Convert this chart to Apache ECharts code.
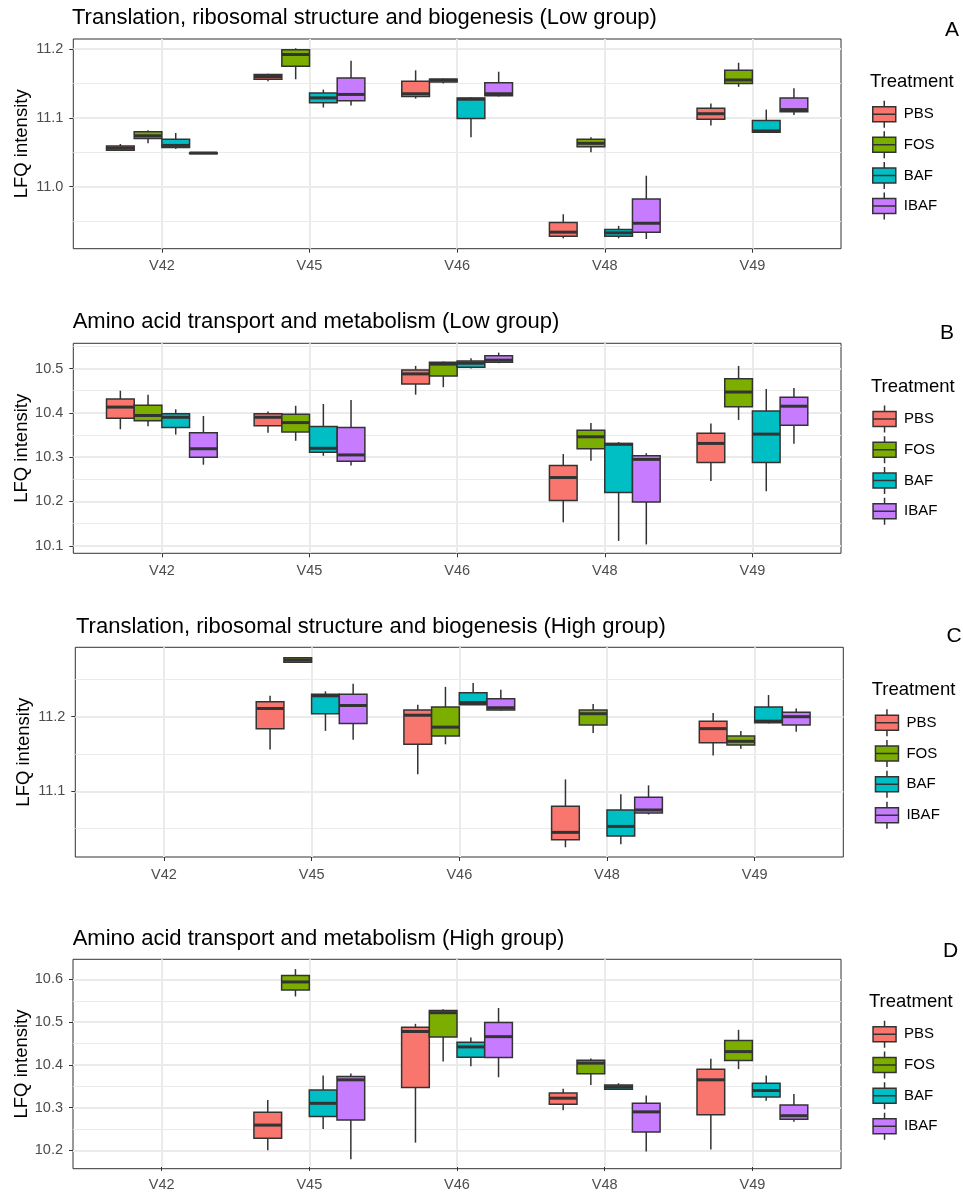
<!DOCTYPE html>
<html><head><meta charset="utf-8">
<script src="https://cdn.jsdelivr.net/npm/echarts@6/dist/echarts.min.js"></script>
<style>html,body{margin:0;padding:0;background:#fff}#chart{width:963px;height:1192px}</style>
</head><body><div id="chart"></div>
<script>
// ---------- data ----------
const categories = ['V42', 'V45', 'V46', 'V48', 'V49'];
const treatments = ['PBS', 'FOS', 'BAF', 'IBAF'];
const treatmentColors = ['#F8766D', '#7CAE00', '#00BFC4', '#C77CFF'];
// each box: [lower whisker, Q1, median, Q3, upper whisker]

// A: Translation, ribosomal structure and biogenesis (Low group)
const lowTransRange = [10.910, 11.2145];
const lowTransPBS = [[11.052, 11.053, 11.056, 11.059, 11.062], [11.153, 11.156, 11.160, 11.163, 11.164], [11.128, 11.131, 11.135, 11.153, 11.169], [10.925, 10.928, 10.934, 10.948, 10.960], [11.089, 11.098, 11.106, 11.114, 11.121]];
const lowTransFOS = [[11.063, 11.070, 11.074, 11.080, 11.082], [11.156, 11.175, 11.192, 11.199, 11.201], [11.150, 11.152, 11.155, 11.156, 11.157], [11.050, 11.058, 11.063, 11.069, 11.072], [11.145, 11.150, 11.155, 11.169, 11.180]];
const lowTransBAF = [[11.055, 11.057, 11.060, 11.069, 11.078], [11.115, 11.122, 11.129, 11.136, 11.141], [11.072, 11.099, 11.127, 11.129, 11.130], [10.925, 10.928, 10.933, 10.938, 10.943], [11.078, 11.079, 11.081, 11.096, 11.112]];
const lowTransIBAF = [[11.048, 11.048, 11.049, 11.049, 11.050], [11.118, 11.125, 11.134, 11.158, 11.183], [11.131, 11.132, 11.135, 11.151, 11.167], [10.924, 10.934, 10.947, 10.982, 11.016], [11.104, 11.109, 11.112, 11.129, 11.143]];

// B: Amino acid transport and metabolism (Low group)
const lowAminoRange = [10.083, 10.557];
const lowAminoPBS = [[10.363, 10.388, 10.413, 10.431, 10.450], [10.355, 10.371, 10.390, 10.398, 10.403], [10.441, 10.465, 10.488, 10.497, 10.506], [10.153, 10.202, 10.254, 10.281, 10.307], [10.246, 10.288, 10.331, 10.354, 10.376]];
const lowAminoFOS = [[10.370, 10.382, 10.394, 10.417, 10.441], [10.337, 10.357, 10.378, 10.397, 10.416], [10.458, 10.483, 10.510, 10.514, 10.516], [10.292, 10.319, 10.346, 10.361, 10.377], [10.384, 10.414, 10.447, 10.477, 10.506]];
const lowAminoBAF = [[10.351, 10.367, 10.390, 10.398, 10.408], [10.303, 10.311, 10.320, 10.369, 10.420], [10.500, 10.503, 10.512, 10.517, 10.523], [10.111, 10.220, 10.329, 10.331, 10.334], [10.223, 10.288, 10.352, 10.404, 10.454]];
const lowAminoIBAF = [[10.283, 10.300, 10.319, 10.355, 10.393], [10.281, 10.291, 10.305, 10.367, 10.429], [10.512, 10.514, 10.519, 10.529, 10.536], [10.103, 10.199, 10.295, 10.303, 10.309], [10.330, 10.372, 10.415, 10.435, 10.456]];

// C: Translation, ribosomal structure and biogenesis (High group)
const highTransRange = [11.012, 11.293];
const highTransPBS = [null, [11.156, 11.184, 11.211, 11.220, 11.228], [11.123, 11.163, 11.202, 11.209, 11.216], [11.025, 11.035, 11.045, 11.080, 11.116], [11.148, 11.165, 11.184, 11.194, 11.205]];
const highTransFOS = [null, [11.272, 11.273, 11.276, 11.279, 11.280], [11.163, 11.174, 11.186, 11.213, 11.240], [11.178, 11.189, 11.204, 11.209, 11.217], [11.157, 11.162, 11.167, 11.174, 11.181]];
const highTransBAF = [null, [11.181, 11.204, 11.228, 11.230, 11.234], [11.216, 11.216, 11.219, 11.232, 11.245], [11.029, 11.040, 11.053, 11.075, 11.096], [11.191, 11.192, 11.194, 11.213, 11.229]];
const highTransIBAF = [null, [11.169, 11.191, 11.215, 11.230, 11.244], [11.208, 11.209, 11.212, 11.224, 11.236], [11.069, 11.071, 11.075, 11.092, 11.108], [11.180, 11.189, 11.200, 11.206, 11.211]];

// D: Amino acid transport and metabolism (High group)
const highAminoRange = [10.157, 10.647];
const highAminoPBS = [null, [10.200, 10.228, 10.259, 10.289, 10.318], [10.218, 10.347, 10.478, 10.488, 10.496], [10.294, 10.308, 10.322, 10.334, 10.344], [10.202, 10.283, 10.365, 10.390, 10.414]];
const highAminoFOS = [null, [10.560, 10.575, 10.594, 10.609, 10.624], [10.408, 10.465, 10.522, 10.527, 10.530], [10.353, 10.379, 10.404, 10.411, 10.415], [10.390, 10.410, 10.431, 10.457, 10.482]];
const highAminoBAF = [null, [10.250, 10.279, 10.310, 10.341, 10.375], [10.397, 10.418, 10.442, 10.453, 10.464], [10.342, 10.343, 10.348, 10.353, 10.357], [10.316, 10.325, 10.340, 10.357, 10.375]];
const highAminoIBAF = [null, [10.179, 10.271, 10.365, 10.373, 10.380], [10.371, 10.417, 10.466, 10.499, 10.533], [10.197, 10.243, 10.290, 10.310, 10.328], [10.267, 10.273, 10.281, 10.306, 10.332]];

// ---------- layout / style ----------
const FONT = "'Liberation Sans', Arial, sans-serif";
const X_EXPAND = 0.6;       // discrete axis expansion
const BOX_W = 0.1875;       // dodge width 0.75 / 4 groups
const MAJOR = 0.1, MINOR = 0.05;
const GRID_COLOR = '#EBEBEB', INK = '#333333', TICK_TEXT = '#4D4D4D';
const BOX_ICON = 'path://M0,6L23,6L23,21L0,21Z M0,13.5L23,13.5 M11.5,0L11.5,6 M11.5,21L11.5,27';

const panelDefs = [
  { letter: 'A', title: 'Translation, ribosomal structure and biogenesis (Low group)',
    boxes: [lowTransPBS, lowTransFOS, lowTransBAF, lowTransIBAF], range: lowTransRange,
    frame: { l: 73.3, t: 39, r: 841, b: 248.7 }, titleXY: [72, 7], letterXY: [945, 19.5],
    legendTitleXY: [870, 72.5], legendXY: [872, 100], legendGap: 2.1 },
  { letter: 'B', title: 'Amino acid transport and metabolism (Low group)',
    boxes: [lowAminoPBS, lowAminoFOS, lowAminoBAF, lowAminoIBAF], range: lowAminoRange,
    frame: { l: 73.3, t: 343.3, r: 841, b: 553.3 }, titleXY: [72.7, 311], letterXY: [940, 322.5],
    legendTitleXY: [871, 378], legendXY: [872.3, 404.8], legendGap: 2.2 },
  { letter: 'C', title: 'Translation, ribosomal structure and biogenesis (High group)',
    boxes: [highTransPBS, highTransFOS, highTransBAF, highTransIBAF], range: highTransRange,
    frame: { l: 75.3, t: 647.3, r: 843.3, b: 857 }, titleXY: [76, 615.8], letterXY: [946.5, 626],
    legendTitleXY: [871.7, 680.7], legendXY: [874.7, 708.5], legendGap: 2.3 },
  { letter: 'D', title: 'Amino acid transport and metabolism (High group)',
    boxes: [highAminoPBS, highAminoFOS, highAminoBAF, highAminoIBAF], range: highAminoRange,
    frame: { l: 73, t: 959.3, r: 841, b: 1168.7 }, titleXY: [72.7, 927.5], letterXY: [943, 940.3],
    legendTitleXY: [869, 992.5], legendXY: [872.3, 1020], legendGap: 2.2 }
];

function makeRender(tIdx, color) {
  return function (params, api) {
    const ci = api.value(0);
    const xc = ci + (tIdx - 1.5) * BOX_W;
    const xl = xc - BOX_W / 2, xr = xc + BOX_W / 2;
    const lo = api.value(1), q1 = api.value(2), md = api.value(3), q3 = api.value(4), hi = api.value(5);
    const pHi = api.coord([xc, hi]), pQ3c = api.coord([xc, q3]);
    const pLo = api.coord([xc, lo]), pQ1c = api.coord([xc, q1]);
    const pTL = api.coord([xl, q3]), pBR = api.coord([xr, q1]);
    const pML = api.coord([xl, md]), pMR = api.coord([xr, md]);
    return {
      type: 'group',
      children: [
        { type: 'line', shape: { x1: pHi[0], y1: pHi[1], x2: pQ3c[0], y2: pQ3c[1] }, style: { stroke: INK, lineWidth: 1.5 } },
        { type: 'line', shape: { x1: pLo[0], y1: pLo[1], x2: pQ1c[0], y2: pQ1c[1] }, style: { stroke: INK, lineWidth: 1.5 } },
        { type: 'rect', shape: { x: pTL[0], y: pTL[1], width: pBR[0] - pTL[0], height: pBR[1] - pTL[1] }, style: { fill: color, stroke: INK, lineWidth: 1.5 } },
        { type: 'line', shape: { x1: pML[0], y1: pML[1], x2: pMR[0], y2: pMR[1] }, style: { stroke: INK, lineWidth: 3 } }
      ]
    };
  };
}

const grid = [], xAxis = [], yAxis = [], series = [], title = [], legend = [];
const hidden = { axisLine: { show: false }, axisTick: { show: false }, axisLabel: { show: false }, splitLine: { show: false } };

panelDefs.forEach((p, i) => {
  const f = p.frame, W = f.r - f.l, H = f.b - f.t;
  const ymin = p.range[0], ymax = p.range[1];
  const yPix = v => f.t + (ymax - v) / (ymax - ymin) * H;
  const nCat = categories.length;
  const band = W / (nCat - 1 + 2 * X_EXPAND);
  const gi = 4 * i;

  // F: frame + boxes
  grid.push({ left: f.l, top: f.t, width: W, height: H, show: true, borderColor: INK, borderWidth: 1, backgroundColor: 'transparent' });
  xAxis.push({ gridIndex: gi, type: 'value', min: -X_EXPAND, max: nCat - 1 + X_EXPAND, show: false });
  yAxis.push(Object.assign({ gridIndex: gi, type: 'value', min: ymin, max: ymax,
    name: 'LFQ intensity', nameLocation: 'middle', nameGap: 42,
    nameTextStyle: { fontSize: 18.5, color: '#000', fontFamily: FONT } }, hidden));

  // G: minor grid lines
  const gMin = +(Math.ceil(ymin / MINOR - 1e-9) * MINOR).toFixed(3);
  const gMax = +(Math.floor(ymax / MINOR + 1e-9) * MINOR).toFixed(3);
  grid.push({ left: f.l, width: W, top: yPix(gMax), height: yPix(gMin) - yPix(gMax) });
  xAxis.push({ gridIndex: gi + 1, type: 'value', show: false });
  yAxis.push({ gridIndex: gi + 1, type: 'value', min: gMin, max: gMax, interval: MINOR,
    axisLine: { show: false }, axisTick: { show: false }, axisLabel: { show: false },
    splitLine: { show: true, lineStyle: { color: GRID_COLOR, width: 1 } } });

  // H: major grid lines, labels, ticks
  const hMin = +(Math.ceil(ymin / MAJOR - 1e-9) * MAJOR).toFixed(3);
  const hMax = +(Math.floor(ymax / MAJOR + 1e-9) * MAJOR).toFixed(3);
  grid.push({ left: f.l, width: W, top: yPix(hMax), height: yPix(hMin) - yPix(hMax) });
  xAxis.push({ gridIndex: gi + 2, type: 'value', show: false });
  yAxis.push({ gridIndex: gi + 2, type: 'value', min: hMin, max: hMax, interval: MAJOR,
    axisLine: { show: false },
    axisTick: { show: true, length: 4, lineStyle: { color: INK, width: 1 } },
    axisLabel: { color: TICK_TEXT, fontSize: 14.5, fontFamily: FONT, margin: 10, formatter: v => v.toFixed(1) },
    splitLine: { show: true, lineStyle: { color: GRID_COLOR, width: 2 } } });

  // X: category axis (labels, ticks, vertical grid lines)
  grid.push({ left: f.l + X_EXPAND * band, width: (nCat - 1) * band, top: f.t, height: H });
  xAxis.push({ gridIndex: gi + 3, type: 'category', data: categories, boundaryGap: false,
    axisLine: { show: false },
    axisTick: { show: true, interval: 0, length: 4, lineStyle: { color: INK, width: 1 } },
    axisLabel: { interval: 0, color: TICK_TEXT, fontSize: 14.5, fontFamily: FONT, margin: 10 },
    splitLine: { show: true, interval: 0, lineStyle: { color: GRID_COLOR, width: 2 } } });
  yAxis.push({ gridIndex: gi + 3, type: 'value', show: false });

  // boxes
  treatments.forEach((t, ti) => {
    series.push({
      type: 'custom', name: t, xAxisIndex: gi, yAxisIndex: gi, z: 3,
      itemStyle: { color: treatmentColors[ti], borderColor: INK },
      encode: { x: 0, y: [1, 2, 3, 4, 5] },
      renderItem: makeRender(ti, treatmentColors[ti]),
      data: p.boxes[ti].map((b, ci) => b ? [ci].concat(b) : null).filter(Boolean)
    });
  });

  // texts
  title.push({ text: p.title, left: p.titleXY[0], top: p.titleXY[1], padding: 0,
    textStyle: { fontSize: 22, lineHeight: 22, fontWeight: 'normal', color: '#000', fontFamily: FONT } });
  title.push({ text: p.letter, left: p.letterXY[0], top: p.letterXY[1], padding: 0,
    textStyle: { fontSize: 21, lineHeight: 21, fontWeight: 'normal', color: '#000', fontFamily: FONT } });
  title.push({ text: 'Treatment', left: p.legendTitleXY[0], top: p.legendTitleXY[1], padding: 0,
    textStyle: { fontSize: 18.5, lineHeight: 18.5, fontWeight: 'normal', color: '#000', fontFamily: FONT } });

  legend.push({ orient: 'vertical', left: p.legendXY[0], top: p.legendXY[1], padding: 0,
    itemWidth: 23, itemHeight: 27, itemGap: p.legendGap, icon: BOX_ICON, data: treatments,
    selectedMode: false,
    textStyle: { fontSize: 15, color: '#000', fontFamily: FONT, padding: [0, 0, 0, 3] },
    itemStyle: { borderColor: INK, borderWidth: 1.5 } });
});

const chart = echarts.init(document.getElementById('chart'), null, { renderer: 'canvas' });
chart.setOption({
  animation: false,
  backgroundColor: '#fff',
  textStyle: { fontFamily: FONT },
  color: treatmentColors,
  title, legend, grid, xAxis, yAxis, series
});
</script></body></html>
